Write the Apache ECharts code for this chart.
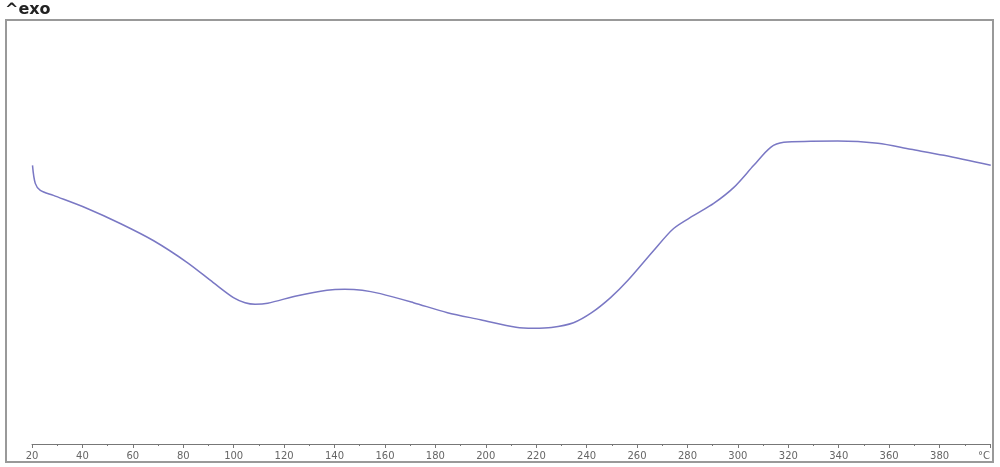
<!DOCTYPE html>
<html>
<head>
<meta charset="utf-8">
<script src="https://cdn.jsdelivr.net/npm/echarts@6/dist/echarts.min.js"></script>
<style>
html,body{margin:0;padding:0;background:#fff;}
#chart{width:1000px;height:467px;}
</style>
</head>
<body>
<div id="chart"></div>
<script>
// Temperature (°C)
var temperature = [20.2, 21.3, 23.3, 28.5, 41.9, 55.0, 68.1, 81.6, 91.9, 99.9, 104.5, 108.5, 113.5, 125.3, 137.0, 144.0, 151.0, 158.2, 171.3, 184.8, 197.9, 212.0, 219.0, 226.0, 234.8, 242.0, 249.5, 256.3, 266.6, 274.5, 282.5, 290.4, 298.4, 306.3, 313.0, 318.2, 328.9, 339.6, 355.5, 368.6, 381.7, 400.3];
// Heat flow signal (arbitrary units, exo up)
var heatFlow = [27.8, 26.0, 25.3, 24.8, 23.5, 22.0, 20.3, 18.1, 16.1, 14.6, 14.1, 13.95, 14.05, 14.8, 15.35, 15.45, 15.35, 15.0, 14.1, 13.1, 12.4, 11.65, 11.55, 11.62, 12.1, 13.1, 14.6, 16.3, 19.3, 21.5, 22.8, 24.0, 25.6, 27.8, 29.6, 30.1, 30.2, 30.22, 30.0, 29.4, 28.8, 27.8];
var xMin = 20, xMax = 400, xStep = 20;
var unitLabel = '°C';
var exoLabel = '^exo';

var points = temperature.map(function (t, i) { return [t, heatFlow[i]]; });

var chart = echarts.init(document.getElementById('chart'), null, {renderer: 'canvas'});
chart.setOption({
  animation: false,
  backgroundColor: '#ffffff',
  grid: {left: 32, right: 10, top: 20, bottom: 23},
  xAxis: {
    type: 'value',
    min: xMin, max: xMax, interval: xStep,
    axisLine: {show: true, lineStyle: {color: '#777', width: 1}},
    axisTick: {show: true, length: 4, lineStyle: {color: '#777'}},
    minorTick: {show: true, splitNumber: 2, length: 2, lineStyle: {color: '#777'}},
    splitLine: {show: false},
    axisLabel: {
      color: '#666', fontFamily: 'DejaVu Sans', fontSize: 10, margin: 7,
      alignMaxLabel: 'right',
      formatter: function (v) { return v === xMax ? unitLabel : String(v); }
    }
  },
  yAxis: {
    type: 'value', min: 0, max: 42.3, show: false,
    splitLine: {show: false}
  },
  series: [{
    type: 'line',
    data: points,
    smooth: 0.3,
    showSymbol: false,
    lineStyle: {color: '#7a78c4', width: 1.5}
  }],
  graphic: [
    {type: 'rect', shape: {x: 6, y: 20, width: 987, height: 442},
     style: {fill: 'none', stroke: '#999', lineWidth: 2}, silent: true},
    {type: 'text', left: 5, top: 2,
     style: {text: exoLabel, font: 'bold 16px "DejaVu Sans"', fill: '#222'}}
  ]
});
</script>
</body>
</html>
